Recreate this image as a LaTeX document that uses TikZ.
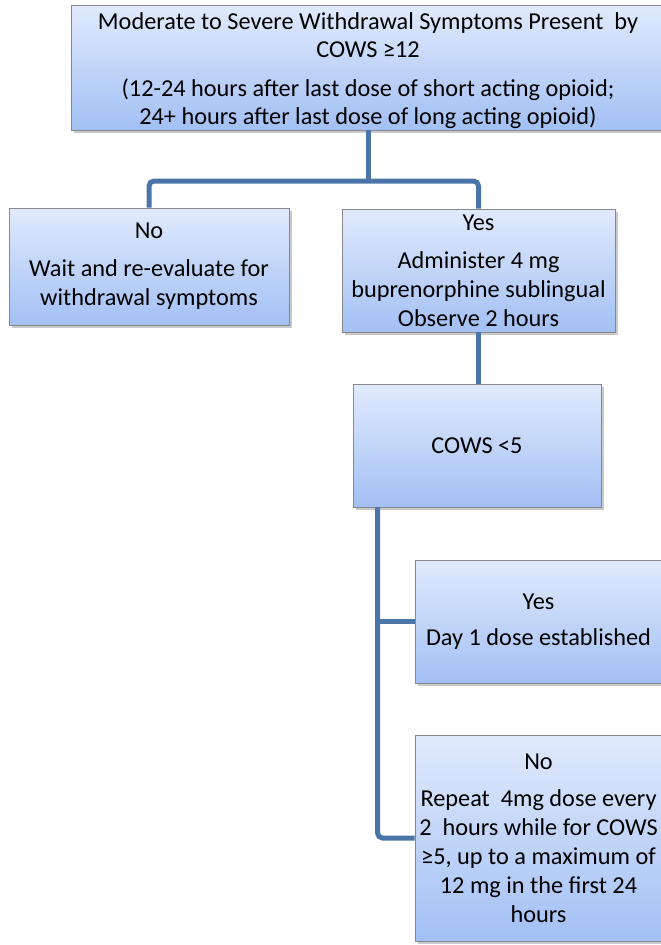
\documentclass[tikz,border=0pt]{standalone}
\usepackage{fontspec}
\setmainfont{Carlito}
\usetikzlibrary{shadows}
\definecolor{conncol}{RGB}{74,117,169}
\definecolor{boxtop}{RGB}{225,234,252}
\definecolor{boxbot}{RGB}{162,192,245}
\definecolor{boxline}{RGB}{135,135,140}
\tikzset{
  box/.style={draw=boxline, line width=0.9pt, top color=boxtop, bottom color=boxbot,
    align=center, inner sep=0pt, font=\fontsize{24.3}{29}\selectfont,
    drop shadow={shadow xshift=2.5pt, shadow yshift=-3pt, opacity=0.3, fill=black!70}},
  boxtext/.style={align=center, inner sep=0pt, font=\fontsize{24.3}{28}\selectfont},
  conn/.style={draw=conncol, line width=5pt}
}
\begin{document}
\begin{tikzpicture}[x=1pt,y=-1pt]
\useasboundingbox (0,0) rectangle (661,945);
\coordinate (j1) at (368,181);
\node[box, minimum width=594pt, minimum height=125pt] (top) at (368,67.5) {};
\node[boxtext] (toptext) at (368,71)
  {Moderate to Severe Withdrawal Symptoms Present\ \ by\\COWS ≥12\\[11pt]
   (12-24 hours after last dose of short acting opioid;\\24+ hours after last dose of long acting opioid)};
\node[box, minimum width=280pt, minimum height=117pt] (no) at (149,266.5)
  {No\\[9pt]Wait and re-evaluate for\\withdrawal symptoms};
\node[box, minimum width=273pt, minimum height=123pt] (yes) at (478.5,270.5)
  {Yes\\[9pt]Administer 4 mg\\buprenorphine sublingual\\Observe 2 hours};
\node[box, minimum width=248pt, minimum height=123pt] (cows) at (477,445.5)
  {COWS <5};
\node[box, minimum width=247pt, minimum height=123pt] (yes2) at (538.5,621.5)
  {Yes\\[7pt]Day 1 dose established};
\node[box, minimum width=247pt, minimum height=206pt] (no2) at (538.5,838)
  {No\\[8pt]Repeat\ \ 4mg dose every\\2\ \ hours while for COWS\\≥5, up to a maximum of\\12 mg in the first 24\\hours};
\coordinate (c1) at ([xshift=25pt]cows.south west);
\draw[conn] (top.south) -- (j1);
\draw[conn, rounded corners=5pt] (no.north) |- (j1) -| (yes.north);
\draw[conn] (yes.south) -- (yes.south |- cows.north);
\draw[conn] (c1) -- (c1 |- yes2.west) -- (yes2.west);
\draw[conn, rounded corners=5pt] (c1) |- (no2.west);
\end{tikzpicture}
\end{document}
